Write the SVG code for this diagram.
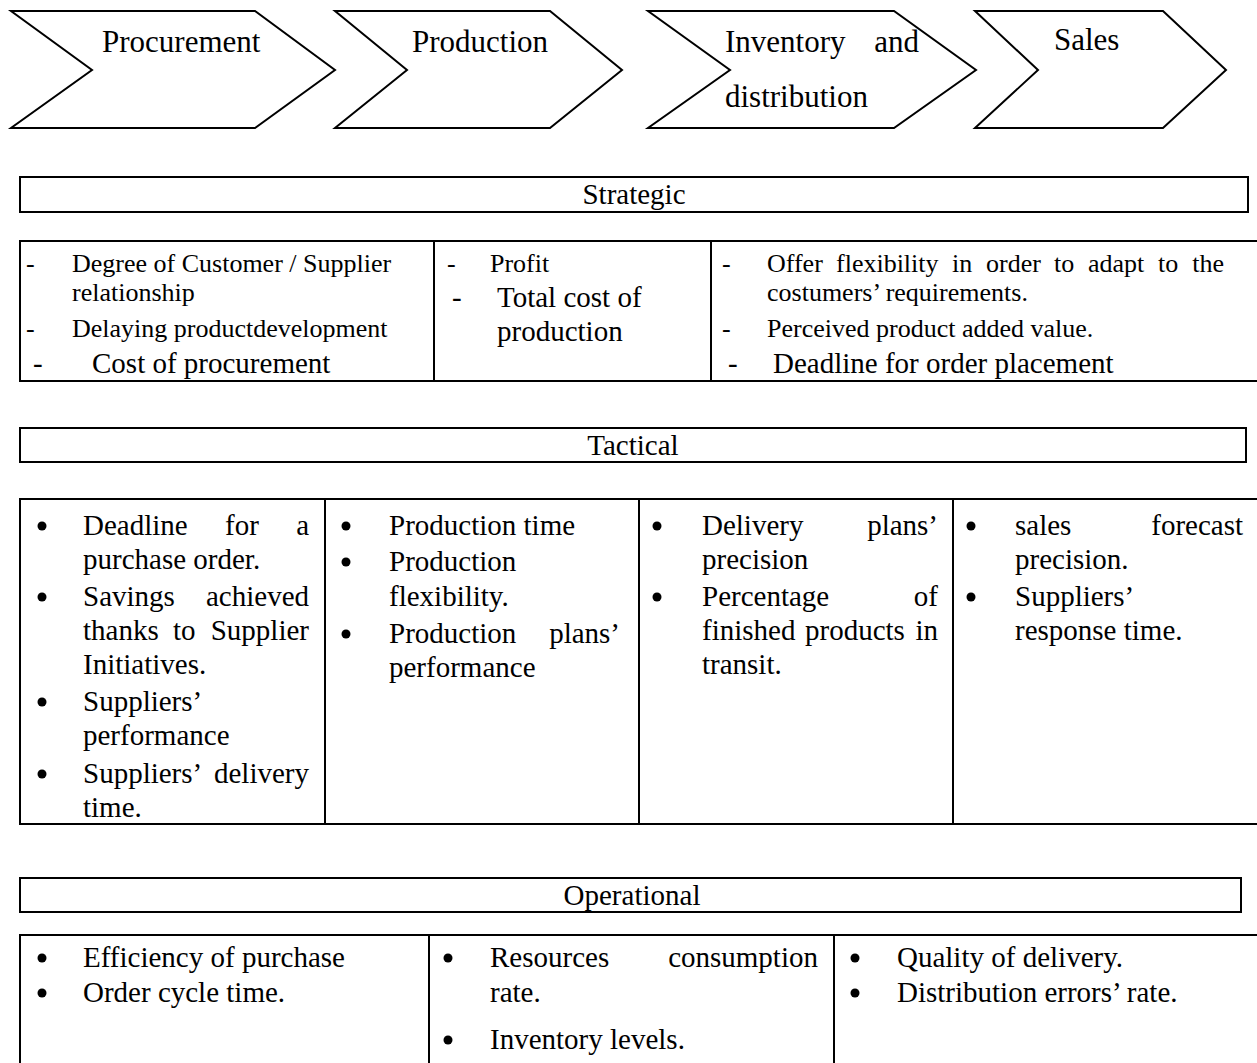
<svg xmlns="http://www.w3.org/2000/svg" width="1257" height="1063" viewBox="0 0 1257 1063">
  <style>
    .shape { fill: #ffffff; stroke: #000000; stroke-width: 2; }
    .rule { stroke: #000000; stroke-width: 2; fill: none; }
    text { font-family: "Liberation Serif", "Times New Roman", serif; fill: #000000; }
    .chev { font-size: 31px; }
    .head { font-size: 29px; }
    .sm { font-size: 26px; }
    .lg { font-size: 29px; }
    .end { text-anchor: end; }
    .mid { text-anchor: middle; }
  </style>
  <rect x="0" y="0" width="1257" height="1063" fill="#ffffff"/>

  <!-- Value chain stages -->
  <g id="stage-procurement">
    <path class="shape" d="M11,11 L255,11 L335,70 L255,128 L11,128 L92,70 Z"/>
    <text class="chev" x="102" y="52">Procurement</text>
  </g>
  <g id="stage-production">
    <path class="shape" d="M335,11 L550,11 L622,70 L550,128 L335,128 L407,70 Z"/>
    <text class="chev" x="412" y="52">Production</text>
  </g>
  <g id="stage-inventory">
    <path class="shape" d="M648,11 L894,11 L976,70 L894,128 L648,128 L730,70 Z"/>
    <text class="chev" x="725" y="52">Inventory</text>
    <text class="chev end" x="919" y="52">and</text>
    <text class="chev" x="725" y="107">distribution</text>
  </g>
  <g id="stage-sales">
    <path class="shape" d="M975,11 L1163,11 L1226,70 L1163,128 L975,128 L1038,70 Z"/>
    <text class="chev" x="1054" y="50">Sales</text>
  </g>

  <!-- Strategic level -->
  <g id="strategic-header">
    <rect class="shape" x="20" y="177" width="1228" height="35"/>
    <text class="head mid" x="634" y="204">Strategic</text>
  </g>
  <g id="strategic-table">
    <rect class="shape" x="20" y="241" width="1250" height="140"/>
    <line class="rule" x1="434" y1="241" x2="434" y2="381"/>
    <line class="rule" x1="711" y1="241" x2="711" y2="381"/>
    <!-- procurement column -->
    <text class="sm" x="26" y="272">-</text>
    <text class="sm" x="72" y="272">Degree of Customer / Supplier</text>
    <text class="sm" x="72" y="301">relationship</text>
    <text class="sm" x="26" y="337">-</text>
    <text class="sm" x="72" y="337">Delaying productdevelopment</text>
    <text class="lg" x="33" y="373">-</text>
    <text class="lg" x="92" y="373">Cost of procurement</text>
    <!-- production column -->
    <text class="sm" x="447" y="272">-</text>
    <text class="sm" x="490" y="272">Profit</text>
    <text class="lg" x="452" y="307">-</text>
    <text class="lg" x="497" y="307">Total cost of</text>
    <text class="lg" x="497" y="341">production</text>
    <!-- inventory / sales column -->
    <text class="sm" x="722" y="272">-</text>
    <text class="sm" x="767" y="272">Offer</text>
    <text class="sm" x="836" y="272">flexibility</text>
    <text class="sm" x="952" y="272">in</text>
    <text class="sm" x="986" y="272">order</text>
    <text class="sm" x="1054" y="272">to</text>
    <text class="sm" x="1088" y="272">adapt</text>
    <text class="sm" x="1158" y="272">to</text>
    <text class="sm end" x="1224" y="272">the</text>
    <text class="sm" x="767" y="301">costumers’ requirements.</text>
    <text class="sm" x="722" y="337">-</text>
    <text class="sm" x="767" y="337">Perceived product added value.</text>
    <text class="lg" x="728" y="373">-</text>
    <text class="lg" x="773" y="373">Deadline for order placement</text>
  </g>

  <!-- Tactical level -->
  <g id="tactical-header">
    <rect class="shape" x="20" y="428" width="1226" height="34"/>
    <text class="head mid" x="633" y="455">Tactical</text>
  </g>
  <g id="tactical-table">
    <rect class="shape" x="20" y="499" width="1250" height="325"/>
    <line class="rule" x1="325" y1="499" x2="325" y2="824"/>
    <line class="rule" x1="639" y1="499" x2="639" y2="824"/>
    <line class="rule" x1="953" y1="499" x2="953" y2="824"/>
    <!-- procurement column -->
    <circle cx="42" cy="526" r="4.5"/>
    <text class="lg" x="83" y="535">Deadline</text>
    <text class="lg" x="225" y="535">for</text>
    <text class="lg end" x="309" y="535">a</text>
    <text class="lg" x="83" y="569">purchase order.</text>
    <circle cx="42" cy="597" r="4.5"/>
    <text class="lg" x="83" y="606">Savings</text>
    <text class="lg end" x="309" y="606">achieved</text>
    <text class="lg" x="83" y="640">thanks</text>
    <text class="lg" x="173" y="640">to</text>
    <text class="lg end" x="309" y="640">Supplier</text>
    <text class="lg" x="83" y="674">Initiatives.</text>
    <circle cx="42" cy="702" r="4.5"/>
    <text class="lg" x="83" y="711">Suppliers’</text>
    <text class="lg" x="83" y="745">performance</text>
    <circle cx="42" cy="774" r="4.5"/>
    <text class="lg" x="83" y="783">Suppliers’</text>
    <text class="lg end" x="309" y="783">delivery</text>
    <text class="lg" x="83" y="817">time.</text>
    <!-- production column -->
    <circle cx="346" cy="526" r="4.5"/>
    <text class="lg" x="389" y="535">Production time</text>
    <circle cx="346" cy="562" r="4.5"/>
    <text class="lg" x="389" y="571">Production</text>
    <text class="lg" x="389" y="606">flexibility.</text>
    <circle cx="346" cy="634" r="4.5"/>
    <text class="lg" x="389" y="643">Production</text>
    <text class="lg end" x="620" y="643">plans’</text>
    <text class="lg" x="389" y="677">performance</text>
    <!-- inventory column -->
    <circle cx="657" cy="526" r="4.5"/>
    <text class="lg" x="702" y="535">Delivery</text>
    <text class="lg end" x="938" y="535">plans’</text>
    <text class="lg" x="702" y="569">precision</text>
    <circle cx="657" cy="597" r="4.5"/>
    <text class="lg" x="702" y="606">Percentage</text>
    <text class="lg end" x="938" y="606">of</text>
    <text class="lg" x="702" y="640">finished</text>
    <text class="lg" x="805" y="640">products</text>
    <text class="lg end" x="938" y="640">in</text>
    <text class="lg" x="702" y="674">transit.</text>
    <!-- sales column -->
    <circle cx="971" cy="526" r="4.5"/>
    <text class="lg" x="1015" y="535">sales</text>
    <text class="lg end" x="1243" y="535">forecast</text>
    <text class="lg" x="1015" y="569">precision.</text>
    <circle cx="971" cy="597" r="4.5"/>
    <text class="lg" x="1015" y="606">Suppliers’</text>
    <text class="lg" x="1015" y="640">response time.</text>
  </g>

  <!-- Operational level -->
  <g id="operational-header">
    <rect class="shape" x="20" y="878" width="1221" height="34"/>
    <text class="head mid" x="632" y="905">Operational</text>
  </g>
  <g id="operational-table">
    <rect class="shape" x="20" y="935" width="1250" height="150"/>
    <line class="rule" x1="429" y1="935" x2="429" y2="1070"/>
    <line class="rule" x1="834" y1="935" x2="834" y2="1070"/>
    <!-- procurement column -->
    <circle cx="42" cy="958" r="4.5"/>
    <text class="lg" x="83" y="967">Efficiency of purchase</text>
    <circle cx="42" cy="993" r="4.5"/>
    <text class="lg" x="83" y="1002">Order cycle time.</text>
    <!-- production column -->
    <circle cx="448" cy="958" r="4.5"/>
    <text class="lg" x="490" y="967">Resources</text>
    <text class="lg end" x="818" y="967">consumption</text>
    <text class="lg" x="490" y="1002">rate.</text>
    <circle cx="448" cy="1040" r="4.5"/>
    <text class="lg" x="490" y="1049">Inventory levels.</text>
    <!-- inventory column -->
    <circle cx="855" cy="958" r="4.5"/>
    <text class="lg" x="897" y="967">Quality of delivery.</text>
    <circle cx="855" cy="993" r="4.5"/>
    <text class="lg" x="897" y="1002">Distribution errors’ rate.</text>
  </g>
</svg>
